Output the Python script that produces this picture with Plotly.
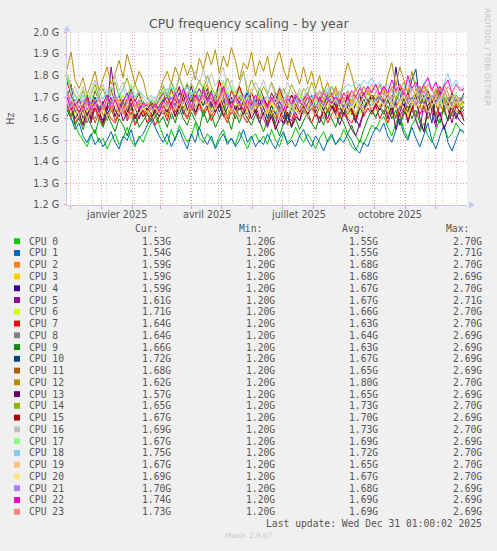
import pandas as pd
import plotly.graph_objs as go

# one sample every 4 days, values in 10 MHz units (165 -> 1.65 GHz)
start_day = '2024-11-28'
step = '4D'

cpu0 = [164, 160, 157, 153, 150, 147, 152, 155, 149, 151, 146, 150, 153, 148, 151, 156, 150, 147, 152, 149,
        154, 158, 161, 157, 152, 148, 155, 150, 157, 153, 149, 152, 158, 151, 149, 153, 150, 147, 152, 155,
        149, 151, 148, 154, 150, 146, 151, 153, 149, 152, 148, 155, 150, 147, 153, 149, 151, 156, 152, 149,
        153, 150, 146, 151, 154, 149, 152, 148, 150, 155, 151, 147, 145, 150, 148, 153, 157, 155, 159, 161,
        156, 152, 158, 162, 155, 151, 157, 160, 154, 158, 152, 149, 155, 160, 157, 151, 153, 158, 155, 153]
cpu1 = [166, 161, 155, 158, 152, 149, 153, 148, 151, 147, 150, 154, 149, 146, 152, 150, 155, 148, 151, 153,
        157, 160, 156, 152, 149, 153, 147, 151, 155, 150, 146, 153, 149, 156, 151, 148, 152, 146, 150, 153,
        148, 151, 147, 150, 155, 149, 152, 147, 150, 148, 153, 149, 146, 151, 154, 148, 150, 147, 152, 155,
        150, 147, 152, 149, 145, 150, 153, 148, 151, 149, 153, 150, 146, 144, 149, 147, 152, 156, 154, 158,
        152, 149, 155, 160, 153, 150, 156, 151, 147, 153, 158, 150, 146, 152, 157, 149, 145, 150, 155, 154]
cpu2 = [171, 165, 168, 162, 166, 161, 168, 164, 160, 167, 171, 163, 166, 169, 162, 165, 170, 164, 167, 161,
        163, 166, 161, 165, 168, 172, 165, 170, 174, 167, 171, 165, 173, 169, 172, 176, 168, 171, 165, 174,
        169, 163, 170, 175, 166, 172, 168, 164, 170, 167, 163, 170, 165, 172, 168, 161, 166, 171, 167, 170,
        165, 168, 172, 166, 163, 169, 171, 165, 168, 164, 170, 167, 171, 166, 169, 173, 168, 165, 170, 174,
        167, 171, 165, 169, 173, 168, 163, 170, 175, 168, 172, 166, 170, 174, 169, 165, 171, 167, 163, 159]
cpu3 = [173, 167, 163, 166, 162, 167, 164, 170, 165, 161, 166, 169, 163, 167, 171, 164, 160, 166, 169, 165,
        162, 165, 163, 167, 170, 165, 173, 168, 164, 171, 176, 169, 172, 166, 170, 174, 167, 165, 172, 177,
        170, 166, 173, 168, 162, 169, 174, 167, 171, 165, 170, 162, 168, 173, 166, 170, 164, 168, 172, 166,
        170, 164, 168, 172, 167, 163, 169, 173, 166, 170, 165, 169, 165, 170, 167, 172, 168, 171, 166, 170,
        162, 168, 174, 167, 171, 160, 166, 172, 168, 175, 169, 165, 171, 167, 173, 168, 164, 170, 166, 159]
cpu4 = [169, 176, 163, 166, 160, 165, 162, 168, 163, 159, 166, 170, 164, 161, 167, 163, 169, 165, 160, 166,
        163, 160, 165, 162, 167, 163, 170, 166, 172, 165, 169, 175, 168, 171, 166, 172, 168, 163, 170, 166,
        161, 168, 164, 171, 167, 172, 165, 169, 166, 170, 164, 168, 172, 165, 160, 167, 171, 165, 169, 162,
        167, 171, 165, 169, 163, 168, 172, 166, 164, 169, 165, 162, 167, 171, 165, 169, 164, 168, 172, 166,
        170, 165, 184, 172, 166, 163, 170, 167, 173, 166, 170, 164, 168, 172, 165, 169, 166, 160, 164, 159]
cpu5 = [179, 171, 165, 169, 163, 171, 158, 166, 161, 168, 164, 184, 170, 163, 167, 161, 170, 165, 168, 162,
        165, 162, 167, 164, 168, 172, 165, 170, 175, 168, 172, 166, 170, 174, 169, 174, 166, 171, 165, 170,
        161, 167, 164, 170, 166, 172, 168, 163, 167, 160, 156, 162, 158, 164, 157, 161, 159, 165, 162, 166,
        161, 168, 163, 169, 165, 171, 164, 168, 162, 166, 170, 164, 160, 156, 163, 168, 171, 166, 169, 166,
        171, 162, 168, 157, 164, 170, 166, 159, 155, 167, 172, 163, 156, 168, 171, 165, 158, 166, 163, 161]
cpu6 = [166, 173, 161, 164, 159, 165, 162, 167, 163, 166, 160, 164, 169, 162, 166, 163, 168, 161, 165, 162,
        164, 161, 166, 163, 167, 162, 169, 165, 171, 166, 163, 170, 167, 172, 166, 170, 164, 168, 173, 167,
        162, 169, 165, 171, 166, 163, 168, 164, 170, 165, 162, 167, 163, 168, 164, 160, 166, 163, 168, 162,
        166, 170, 164, 168, 161, 165, 169, 163, 167, 164, 160, 164, 168, 162, 166, 170, 164, 168, 165, 169,
        163, 167, 171, 165, 168, 162, 166, 170, 164, 167, 163, 168, 165, 169, 164, 167, 163, 168, 166, 171]
cpu7 = [163, 168, 158, 161, 157, 163, 159, 165, 161, 157, 163, 160, 158, 162, 166, 159, 163, 157, 161, 164,
        158, 162, 157, 161, 164, 159, 166, 161, 168, 163, 160, 165, 162, 167, 161, 165, 159, 163, 168, 162,
        158, 164, 160, 166, 161, 158, 163, 167, 160, 162, 158, 164, 155, 160, 166, 161, 157, 163, 159, 165,
        161, 158, 163, 160, 164, 158, 162, 166, 161, 165, 160, 158, 162, 166, 161, 165, 162, 166, 160, 164,
        158, 163, 167, 161, 165, 159, 164, 168, 162, 166, 160, 163, 167, 161, 165, 159, 163, 167, 162, 164]
cpu8 = [167, 161, 164, 160, 165, 158, 163, 160, 166, 162, 159, 164, 161, 167, 163, 160, 165, 158, 162, 166,
        162, 158, 161, 164, 162, 167, 160, 165, 162, 168, 163, 166, 161, 165, 162, 168, 163, 166, 160, 164,
        169, 162, 166, 161, 165, 162, 167, 163, 160, 165, 161, 166, 162, 158, 164, 160, 166, 162, 159, 164,
        161, 165, 161, 166, 160, 164, 168, 162, 165, 161, 167, 163, 160, 166, 162, 168, 164, 160, 166, 163,
        169, 165, 161, 166, 162, 168, 164, 160, 166, 163, 169, 165, 161, 167, 163, 160, 165, 162, 166, 164]
cpu9 = [161, 165, 157, 160, 155, 161, 157, 153, 160, 156, 162, 158, 154, 160, 157, 152, 158, 162, 156, 159,
        162, 159, 163, 158, 161, 156, 163, 158, 165, 160, 157, 163, 159, 155, 164, 158, 162, 156, 160, 166,
        161, 155, 163, 158, 164, 160, 157, 162, 159, 154, 159, 163, 157, 152, 158, 162, 156, 160, 155, 159,
        163, 158, 155, 161, 157, 164, 160, 156, 162, 158, 153, 157, 152, 149, 155, 160, 164, 161, 165, 162,
        166, 160, 164, 157, 162, 166, 160, 164, 158, 154, 163, 167, 161, 158, 165, 159, 163, 161, 164, 166]
cpu10 = [171, 165, 168, 163, 167, 161, 166, 170, 164, 168, 162, 166, 171, 165, 169, 163, 167, 160, 165, 168,
         164, 167, 162, 166, 169, 165, 170, 164, 168, 162, 167, 171, 165, 169, 166, 171, 165, 169, 163, 168,
         172, 166, 170, 164, 168, 173, 167, 163, 169, 165, 160, 166, 162, 168, 164, 158, 165, 170, 164, 168,
         162, 167, 163, 168, 164, 169, 165, 170, 166, 162, 168, 164, 158, 165, 169, 166, 171, 167, 170, 166,
         169, 164, 168, 172, 166, 170, 178, 183, 167, 171, 165, 158, 169, 173, 167, 170, 166, 169, 168, 172]
cpu11 = [166, 161, 167, 163, 166, 160, 164, 158, 163, 167, 161, 165, 159, 164, 168, 162, 165, 160, 164, 161,
         163, 160, 164, 161, 166, 161, 167, 163, 169, 164, 161, 166, 163, 168, 163, 167, 161, 165, 170, 164,
         160, 166, 162, 168, 164, 160, 165, 162, 167, 162, 158, 164, 160, 166, 161, 157, 163, 167, 162, 166,
         162, 167, 161, 165, 169, 163, 167, 164, 160, 166, 162, 165, 161, 167, 163, 168, 164, 167, 164, 168,
         162, 166, 160, 165, 169, 163, 167, 161, 166, 170, 164, 168, 162, 166, 163, 167, 161, 165, 166, 168]
cpu12 = [183, 191, 178, 174, 179, 171, 176, 182, 173, 178, 184, 176, 181, 187, 179, 190, 183, 176, 182, 178,
         170, 166, 168, 172, 178, 182, 176, 184, 179, 186, 180, 185, 178, 188, 183, 191, 185, 192, 181, 189,
         184, 193, 187, 178, 186, 183, 191, 180, 187, 182, 189, 179, 186, 191, 183, 178, 188, 182, 176, 184,
         176, 182, 174, 180, 172, 177, 170, 175, 168, 178, 186, 180, 173, 176, 171, 175, 169, 172, 176, 171,
         180, 186, 175, 184, 178, 172, 182, 174, 170, 176, 172, 169, 174, 170, 176, 172, 167, 170, 165, 162]
cpu13 = [171, 165, 160, 163, 157, 165, 160, 167, 162, 158, 164, 168, 161, 166, 159, 163, 167, 160, 164, 161,
         163, 160, 164, 161, 166, 163, 168, 161, 166, 171, 164, 169, 163, 167, 171, 165, 169, 163, 167, 161,
         165, 170, 164, 168, 162, 166, 160, 164, 158, 163, 157, 161, 155, 160, 158, 163, 156, 161, 159, 166,
         162, 168, 163, 158, 164, 160, 166, 162, 157, 163, 159, 155, 152, 158, 164, 169, 163, 167, 164, 169,
         160, 166, 155, 163, 168, 158, 165, 171, 160, 154, 166, 170, 158, 163, 155, 160, 167, 162, 159, 157]
cpu14 = [181, 175, 171, 168, 173, 167, 171, 176, 170, 174, 168, 172, 177, 170, 174, 179, 172, 176, 171, 168,
         166, 169, 167, 170, 175, 170, 177, 172, 179, 174, 170, 176, 173, 178, 173, 180, 175, 171, 177, 173,
         179, 174, 170, 176, 182, 172, 178, 174, 170, 175, 171, 177, 172, 168, 174, 170, 176, 172, 169, 174,
         171, 177, 172, 168, 174, 170, 175, 171, 173, 169, 172, 168, 174, 170, 175, 171, 173, 176, 171, 175,
         170, 174, 169, 173, 177, 172, 168, 174, 170, 175, 171, 168, 173, 169, 171, 167, 170, 166, 168, 165]
cpu15 = [177, 171, 166, 169, 164, 171, 166, 173, 168, 164, 170, 174, 167, 171, 165, 169, 174, 168, 172, 166,
         164, 168, 165, 169, 172, 167, 174, 169, 165, 171, 176, 170, 173, 168, 175, 169, 173, 167, 178, 171,
         166, 173, 169, 175, 170, 165, 172, 168, 174, 170, 166, 172, 168, 174, 169, 165, 171, 167, 163, 169,
         172, 168, 164, 170, 166, 172, 167, 163, 169, 165, 171, 164, 159, 168, 172, 167, 171, 169, 172, 167,
         171, 165, 169, 174, 168, 172, 166, 170, 175, 169, 173, 167, 171, 175, 170, 166, 172, 168, 170, 167]
cpu16 = [179, 172, 175, 170, 175, 169, 173, 178, 172, 176, 170, 174, 180, 173, 177, 171, 175, 169, 173, 170,
         167, 171, 168, 173, 176, 171, 178, 173, 180, 175, 171, 177, 182, 176, 183, 176, 181, 175, 179, 184,
         173, 178, 172, 176, 181, 175, 171, 177, 173, 178, 172, 176, 170, 175, 171, 177, 173, 168, 174, 170,
         175, 171, 168, 173, 169, 174, 170, 167, 172, 168, 173, 170, 167, 172, 169, 174, 170, 172, 175, 170,
         174, 169, 173, 168, 172, 176, 171, 167, 173, 169, 174, 170, 172, 168, 173, 169, 171, 167, 170, 169]
cpu17 = [181, 172, 168, 171, 166, 172, 168, 174, 169, 165, 171, 175, 168, 172, 166, 170, 176, 169, 173, 167,
         165, 169, 166, 170, 173, 168, 175, 170, 166, 172, 177, 171, 174, 169, 176, 170, 174, 168, 172, 178,
         171, 175, 169, 173, 167, 171, 165, 170, 174, 168, 164, 170, 166, 171, 165, 169, 163, 168, 172, 166,
         170, 165, 169, 164, 168, 172, 166, 170, 165, 169, 163, 167, 162, 168, 166, 170, 167, 169, 172, 166,
         170, 165, 169, 173, 167, 171, 166, 170, 174, 168, 172, 166, 170, 167, 171, 165, 169, 172, 168, 167]
cpu18 = [173, 168, 171, 167, 171, 166, 170, 168, 172, 169, 173, 170, 167, 171, 174, 169, 172, 170, 173, 171,
         169, 168, 170, 168, 171, 174, 169, 173, 168, 172, 175, 170, 173, 169, 173, 168, 172, 170, 174, 169,
         172, 168, 171, 167, 170, 173, 166, 169, 172, 168, 171, 167, 170, 166, 169, 172, 168, 171, 167, 170,
         172, 169, 173, 170, 174, 172, 175, 173, 171, 174, 176, 175, 177, 174, 178, 176, 179, 175, 177, 173,
         176, 172, 175, 171, 174, 178, 173, 176, 172, 175, 179, 174, 177, 173, 176, 181, 175, 178, 174, 175]
cpu19 = [169, 163, 166, 162, 165, 160, 164, 167, 162, 165, 161, 164, 168, 162, 166, 163, 160, 165, 162, 166,
         163, 160, 162, 165, 163, 167, 162, 166, 164, 168, 163, 167, 165, 169, 164, 167, 162, 166, 170, 164,
         161, 167, 163, 160, 165, 168, 162, 166, 163, 160, 165, 162, 166, 159, 163, 167, 163, 166, 162, 165,
         161, 164, 162, 166, 163, 167, 164, 160, 165, 168, 163, 166, 162, 166, 163, 167, 164, 168, 165, 166,
         163, 167, 164, 168, 165, 162, 166, 169, 164, 167, 163, 166, 170, 165, 168, 164, 167, 163, 166, 167]
cpu20 = [171, 165, 168, 164, 168, 163, 167, 165, 169, 164, 168, 166, 170, 165, 163, 167, 171, 165, 168, 164,
         166, 163, 165, 162, 167, 165, 169, 164, 168, 166, 170, 165, 169, 167, 170, 166, 169, 164, 168, 172,
         166, 163, 168, 165, 170, 166, 163, 167, 165, 167, 164, 168, 165, 162, 166, 169, 165, 168, 164, 167,
         163, 166, 164, 168, 165, 169, 166, 170, 167, 164, 168, 165, 169, 166, 170, 167, 165, 168, 169, 166,
         170, 167, 164, 168, 171, 166, 169, 165, 168, 172, 167, 170, 166, 169, 173, 168, 165, 170, 167, 169]
cpu21 = [172, 166, 169, 165, 169, 164, 168, 166, 170, 165, 169, 167, 171, 166, 164, 168, 172, 166, 169, 165,
         167, 164, 166, 163, 168, 166, 170, 165, 169, 167, 171, 166, 170, 168, 171, 167, 170, 165, 169, 173,
         167, 164, 169, 166, 171, 167, 164, 168, 166, 168, 165, 169, 166, 163, 167, 170, 166, 169, 165, 168,
         164, 167, 165, 169, 166, 170, 167, 171, 168, 165, 169, 166, 170, 167, 171, 168, 166, 169, 170, 167,
         171, 168, 165, 169, 172, 167, 170, 166, 169, 173, 168, 171, 167, 170, 174, 169, 166, 171, 168, 170]
cpu22 = [170, 164, 167, 163, 166, 170, 164, 168, 163, 167, 171, 165, 169, 164, 168, 172, 166, 169, 164, 167,
         166, 164, 167, 163, 168, 170, 166, 172, 167, 174, 169, 165, 171, 168, 173, 168, 172, 166, 170, 175,
         169, 165, 171, 167, 164, 169, 166, 171, 167, 169, 165, 170, 166, 168, 164, 169, 167, 171, 168, 166,
         170, 167, 171, 168, 172, 169, 167, 170, 167, 172, 169, 173, 170, 174, 171, 175, 172, 176, 171, 175,
         172, 178, 173, 176, 171, 180, 174, 177, 172, 176, 179, 173, 177, 171, 175, 178, 172, 176, 173, 174]
cpu23 = [173, 167, 165, 168, 164, 167, 163, 166, 169, 164, 168, 165, 170, 166, 163, 167, 171, 165, 168, 166,
         167, 164, 166, 163, 165, 168, 165, 170, 166, 172, 168, 164, 170, 167, 171, 167, 170, 165, 169, 173,
         168, 164, 170, 166, 168, 164, 169, 166, 170, 167, 164, 169, 166, 170, 167, 171, 168, 172, 169, 168,
         171, 167, 170, 173, 169, 172, 170, 174, 171, 168, 173, 170, 174, 171, 175, 172, 176, 173, 170, 174,
         171, 175, 172, 176, 173, 169, 174, 171, 175, 172, 176, 173, 170, 174, 171, 175, 172, 176, 173, 173]

colors = ['#00CC00', '#0066B3', '#FF8000', '#FFCC00', '#330099', '#990099', '#CCFF00', '#FF0000',
          '#808080', '#008F00', '#00487D', '#B35A00', '#B38F00', '#6B006B', '#8FB300', '#B30000',
          '#BEBEBE', '#80FF80', '#80C9FF', '#FFC080', '#FFE680', '#AA80FF', '#EE00CC', '#FF8080']

cur_vals = [1.53, 1.54, 1.59, 1.59, 1.59, 1.61, 1.71, 1.64, 1.64, 1.66, 1.72, 1.68,
            1.62, 1.57, 1.65, 1.67, 1.69, 1.67, 1.75, 1.67, 1.69, 1.70, 1.74, 1.73]
min_vals = [1.20] * 24
avg_vals = [1.55, 1.55, 1.68, 1.68, 1.67, 1.67, 1.66, 1.63, 1.64, 1.63, 1.67, 1.65,
            1.80, 1.65, 1.73, 1.70, 1.73, 1.69, 1.72, 1.65, 1.67, 1.68, 1.69, 1.69]
max_vals = [2.70, 2.71, 2.70, 2.69, 2.70, 2.71, 2.70, 2.70, 2.69, 2.69, 2.69, 2.69,
            2.70, 2.69, 2.70, 2.69, 2.70, 2.69, 2.70, 2.70, 2.70, 2.69, 2.69, 2.69]

month_labels = ['janvier 2025', 'avril 2025', 'juillet 2025', 'octobre 2025']
month_label_dates = ['2025-01-16 12:00', '2025-04-16 12:00', '2025-07-16 12:00', '2025-10-16 12:00']
y_ticks = [1.2, 1.3, 1.4, 1.5, 1.6, 1.7, 1.8, 1.9, 2.0]

series = [cpu0, cpu1, cpu2, cpu3, cpu4, cpu5, cpu6, cpu7, cpu8, cpu9, cpu10, cpu11,
          cpu12, cpu13, cpu14, cpu15, cpu16, cpu17, cpu18, cpu19, cpu20, cpu21, cpu22, cpu23]

W, H = 497, 551
# plot box in pixels
X0, X1, Y0, Y1 = 67, 467, 27, 203


def px(x):
    return x / W


def py(y):
    return 1 - y / H


fig = go.Figure()
for i, vals in enumerate(series):
    dates = pd.date_range(start_day, periods=len(vals), freq=step)
    fig.add_trace(go.Scatter(x=dates, y=[v * 1e7 for v in vals], mode='lines',
                             line={'color': colors[i], 'width': 1},
                             name='CPU ' + str(i), showlegend=False, hoverinfo='skip'))

month_starts = pd.date_range('2024-12-01', '2025-12-01', freq='MS')
biweekly = pd.date_range('2024-12-09', '2025-12-31', freq='14D')

grid_red = 'rgba(228,140,140,0.8)'
grid_grey = 'rgba(175,175,175,0.7)'
axis_col = '#c4c8f4'

fig.update_layout(
    width=W, height=H,
    margin={'l': 0, 'r': 0, 't': 0, 'b': 0, 'pad': 0},
    paper_bgcolor='#F0F0F0', plot_bgcolor='#FFFFFF',
    font={'family': 'DejaVu Sans', 'size': 9.6, 'color': '#555555'},
    xaxis={'domain': [px(X0), px(X1)], 'type': 'date',
           'range': ['2024-11-28', '2026-01-01'],
           'tickvals': list(month_starts), 'ticktext': [''] * len(month_starts),
           'showgrid': True, 'gridcolor': grid_red, 'griddash': '1px,2px', 'gridwidth': 1,
           'ticks': 'outside', 'ticklen': 3, 'tickcolor': grid_red,
           'minor': {'tickvals': list(biweekly), 'showgrid': True, 'gridcolor': grid_grey,
                     'griddash': '1px,2px', 'ticks': ''},
           'showline': True, 'linecolor': axis_col, 'linewidth': 1,
           'zeroline': False, 'fixedrange': True},
    yaxis={'domain': [py(Y1), py(Y0)], 'range': [1.2e9, 2.0e9],
           'tickvals': [t * 1e9 for t in y_ticks],
           'ticktext': ['%.1f G' % t for t in y_ticks],
           'showgrid': True, 'gridcolor': grid_red, 'griddash': '1px,2px', 'gridwidth': 1,
           'ticks': 'outside', 'ticklen': 2, 'tickcolor': grid_red, 'ticklabelstandoff': 3,
           'showline': True, 'linecolor': axis_col, 'linewidth': 1,
           'zeroline': False, 'fixedrange': True},
)

ann = []
# month labels under the x axis
for lab, d in zip(month_labels, month_label_dates):
    ann.append(dict(x=d, xref='x', y=py(212.5), yref='paper', text=lab, showarrow=False,
                    xanchor='center', yanchor='middle', font={'size': 9.6, 'color': '#555555'}))

ann.append(dict(x=px(248.5), y=py(18), xref='paper', yref='paper', text='CPU frequency scaling - by year',
                showarrow=False, xanchor='center', yanchor='middle',
                font={'size': 12.5, 'color': '#555555'}))
ann.append(dict(x=px(11), y=py(115), xref='paper', yref='paper', text='Hz', textangle=-90,
                showarrow=False, xanchor='center', yanchor='middle', font={'size': 9.6, 'color': '#555555'}))
ann.append(dict(x=px(487), y=py(52), xref='paper', yref='paper', text='RRDTOOL / TOBI OETIKER', textangle=90,
                showarrow=False, xanchor='center', yanchor='middle', font={'size': 7.6, 'color': '#c4c4c4'}))

mono = {'family': 'DejaVu Sans Mono', 'size': 9.7, 'color': '#555555'}
for lab, xr in zip(['Cur:', 'Min:', 'Avg:', 'Max:'], [160, 264, 367, 471]):
    ann.append(dict(x=px(xr), y=py(227), xref='paper', yref='paper', text=lab, showarrow=False,
                    xanchor='right', yanchor='middle', font=mono))

shapes = []
for i in range(len(series)):
    yc = 240 + 12 * i
    shapes.append(dict(type='rect', xref='paper', yref='paper', x0=px(14), x1=px(20),
                       y0=py(yc + 3), y1=py(yc - 3), fillcolor=colors[i], line={'width': 0}))
    ann.append(dict(x=px(27), y=py(yc), xref='paper', yref='paper', text='CPU ' + str(i),
                    showarrow=False, xanchor='left', yanchor='middle', font=mono))
    for v, xr in zip([cur_vals[i], min_vals[i], avg_vals[i], max_vals[i]], [173, 277, 380, 484]):
        ann.append(dict(x=px(xr), y=py(yc), xref='paper', yref='paper', text='%.2fG' % v,
                        showarrow=False, xanchor='right', yanchor='middle', font=mono))

ann.append(dict(x=px(484), y=py(528), xref='paper', yref='paper',
                text='Last update: Wed Dec 31 01:00:02 2025', showarrow=False,
                xanchor='right', yanchor='middle', font=mono))
ann.append(dict(x=px(248), y=py(540), xref='paper', yref='paper', text='Munin 2.0.67', showarrow=False,
                xanchor='center', yanchor='middle', font={'size': 7.2, 'color': '#c8c8c8'}))

# axis arrowheads
shapes.append(dict(type='path', xref='paper', yref='paper', line={'width': 0}, fillcolor=axis_col,
                   path='M %f %f L %f %f L %f %f Z' % (px(469), py(199.5), px(475), py(203), px(469), py(206.5))))
shapes.append(dict(type='path', xref='paper', yref='paper', line={'width': 0}, fillcolor=axis_col,
                   path='M %f %f L %f %f L %f %f Z' % (px(63.5), py(26), px(67), py(20), px(70.5), py(26))))

fig.update_layout(annotations=ann, shapes=shapes)

# drop the default page margin so the figure sits at the window's top-left corner
fig.write_html("out.html", config={'displayModeBar': False},
               post_script="document.body.style.margin='0';document.body.style.background='#F0F0F0';")
